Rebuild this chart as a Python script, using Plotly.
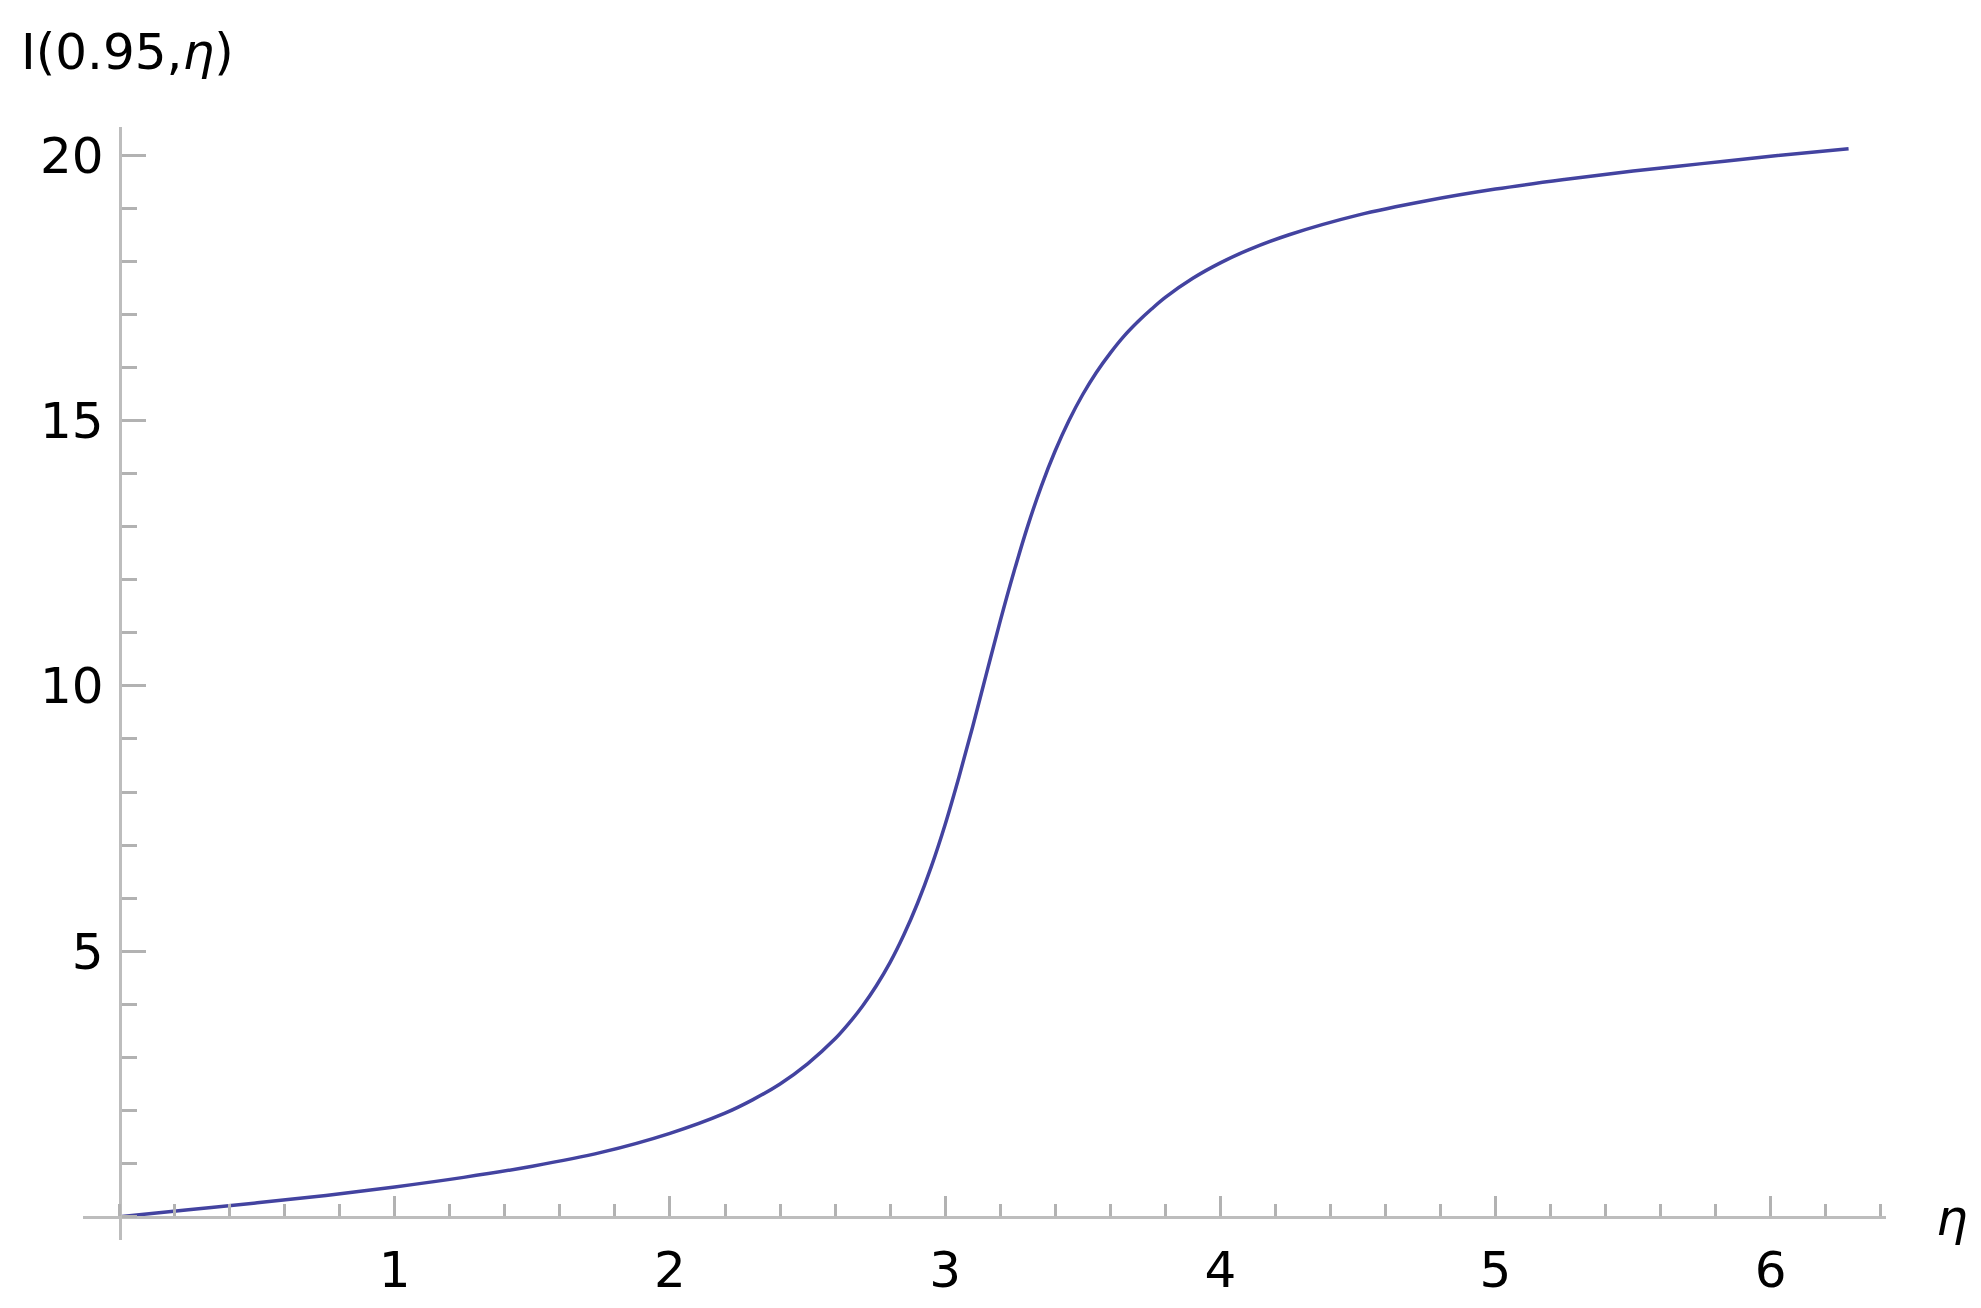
import plotly.graph_objects as go

# Values
eta = [0, 0.25, 0.5, 0.75, 1.0, 1.25, 1.5, 1.75, 2.0, 2.2, 2.3, 2.4, 2.5, 2.6, 2.65,
       2.7, 2.75, 2.8, 2.85, 2.9, 2.95, 3.0, 3.05, 3.1, 3.15, 3.2, 3.25, 3.3, 3.35,
       3.4, 3.45, 3.5, 3.55, 3.6, 3.65, 3.7, 3.75, 3.8, 3.9, 4.0, 4.1, 4.25, 4.5,
       4.75, 5.0, 5.25, 5.5, 5.75, 6.0, 6.283]
I_vals = [0, 0.13, 0.26, 0.40, 0.56, 0.74, 0.95, 1.21, 1.57, 1.95, 2.20, 2.50, 2.88,
          3.35, 3.64, 3.97, 4.35, 4.79, 5.31, 5.91, 6.60, 7.39, 8.28, 9.23, 10.23,
          11.22, 12.15, 13.01, 13.77, 14.43, 15.00, 15.49, 15.91, 16.27, 16.59, 16.86,
          17.10, 17.32, 17.68, 17.97, 18.21, 18.50, 18.87, 19.14, 19.36, 19.54, 19.70,
          19.84, 19.98, 20.12]

x_ticks = [1, 2, 3, 4, 5, 6]
y_ticks = [5, 10, 15, 20]

x_range = [-0.133, 6.419]
y_range = [-0.44, 20.53]

axis_col = "#bdbdbd"
tick_col = "#b2b2b2"
font_fam = "DejaVu Sans"
fsize = 50

ypos = (0 - x_range[0]) / (x_range[1] - x_range[0])
xpos = (0 - y_range[0]) / (y_range[1] - y_range[0])

# page body has an 8px margin; shift the figure's plot area to compensate
ML, MT, MR, MB = 75, 119, 103, 76
PW = 1981 - ML - MR
PH = 1308 - MT - MB

fig = go.Figure()
fig.add_trace(go.Scatter(
    x=eta, y=I_vals, mode="lines",
    line=dict(color="#4343a0", width=3.5, shape="spline", smoothing=1.0),
    hoverinfo="skip", showlegend=False,
))

fig.update_layout(
    width=1981, height=1308,
    margin=dict(l=ML, r=MR, t=MT, b=MB),
    paper_bgcolor="white", plot_bgcolor="white",
    font=dict(family=font_fam, size=fsize, color="black"),
    xaxis=dict(
        range=x_range, anchor="free", position=xpos, automargin=False,
        showline=True, linecolor=axis_col, linewidth=3,
        showgrid=False, zeroline=False,
        tickmode="array", tickvals=x_ticks, ticktext=[str(v) for v in x_ticks],
        ticks="inside", ticklen=20, tickwidth=3, tickcolor=tick_col,
        minor=dict(tickmode="linear", tick0=0, dtick=0.2, ticks="inside",
                   ticklen=12, tickwidth=3, tickcolor=tick_col, showgrid=False),
        tickfont=dict(family=font_fam, size=fsize, color="black"),
        ticklabelstandoff=8,
    ),
    yaxis=dict(
        range=y_range, anchor="free", position=ypos, automargin=False,
        showline=True, linecolor=axis_col, linewidth=3,
        showgrid=False, zeroline=False,
        tickmode="array", tickvals=y_ticks, ticktext=[str(v) for v in y_ticks],
        ticks="inside", ticklen=24, tickwidth=3, tickcolor=tick_col,
        minor=dict(tickmode="linear", tick0=0, dtick=1, ticks="inside",
                   ticklen=15, tickwidth=3, tickcolor=tick_col, showgrid=False),
        tickfont=dict(family=font_fam, size=fsize, color="black"),
        ticklabelstandoff=5,
    ),
    annotations=[
        dict(text="I(0.95,<i>η</i>)", xref="paper", yref="paper",
             x=(19 - 8 - ML) / PW, y=1 + (MT + 8 - 52) / PH,
             xanchor="left", yanchor="middle", showarrow=False,
             font=dict(family=font_fam, size=fsize, color="black")),
        dict(text="<i>η</i>", xref="paper", yref="paper",
             x=(1952 - 8 - ML) / PW, y=(1308 - MB - (1218 - 8)) / PH,
             xanchor="center", yanchor="middle", showarrow=False,
             font=dict(family=font_fam, size=fsize, color="black")),
    ],
)

fig.write_html("out.html")
